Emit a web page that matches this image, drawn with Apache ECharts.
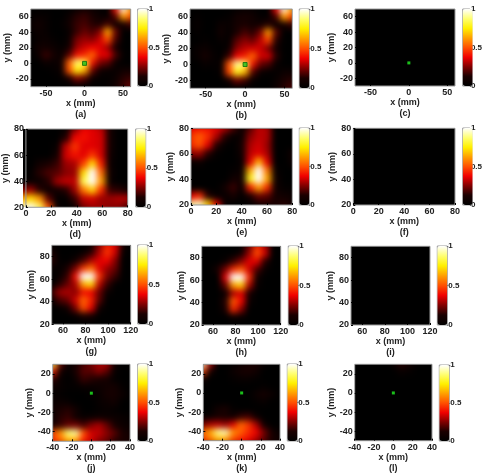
<!DOCTYPE html>
<html>
<head>
<meta charset="utf-8">
<style>
  html, body { margin: 0; background: #fff; }
  #main { position: absolute; left: 0; top: 0; width: 485px; height: 473px; }
  .clip { position: absolute; overflow: hidden; background: #000; }
  .heat { position: absolute; filter: blur(3px); }
</style>
<script src="https://cdn.jsdelivr.net/npm/echarts@6/dist/echarts.min.js"></script>
</head>
<body>
<script>
// panel letters
const letters = ['a', 'b', 'c', 'd', 'e', 'f', 'g', 'h', 'i', 'j', 'k', 'l']

// axis ranges [xmin, xmax, ymin, ymax]
const rangeA = [-70, 60, -30, 70]
const rangeD = [0, 80, 20, 80]
const rangeG = [50, 120, 20, 90]
const rangeJ = [-40, 40, -50, 30]

// tick labels per row of panels
const xTicksA = [-50, 0, 50]
const yTicksA = [-20, 0, 20, 40, 60]
const xTicksD = [0, 20, 40, 60, 80]
const yTicksD = [20, 40, 60, 80]
const xTicksG = [60, 80, 100, 120]
const yTicksG = [20, 40, 60, 80]
const xTicksJ = [-40, -20, 0, 20, 40]
const yTicksJ = [-40, -20, 0, 20]
const barTicks = [0, 0.5, 1]

// normalised image values in percent, first row is the top of the plot
const imgA = [
  [0,0,0,0,0,0,4,8,6,2,0,40,100,62],
  [2,4,3,0,0,6,14,16,12,6,4,20,62,50],
  [4,8,4,0,2,8,16,18,14,12,18,6,12,18],
  [2,6,4,0,0,4,16,22,18,26,64,22,0,0],
  [0,4,6,2,0,6,24,28,26,34,50,18,0,0],
  [0,8,8,6,2,10,28,34,38,36,28,10,0,0],
  [0,6,16,10,4,20,40,44,54,36,36,18,2,0],
  [0,0,6,4,8,52,88,82,40,24,20,6,0,0],
  [0,0,0,2,6,50,76,64,22,8,4,4,8,8],
  [0,0,0,0,2,12,26,20,6,2,2,6,14,16],
  [0,0,0,0,0,0,2,2,0,0,2,8,16,22]
]
const imgB = [
  [0,0,0,0,0,0,2,4,3,0,0,38,100,64],
  [0,2,0,0,0,2,8,10,8,2,2,18,62,48],
  [0,4,0,0,6,4,10,12,8,8,14,4,10,16],
  [0,2,0,0,8,2,12,18,14,24,62,20,0,0],
  [0,0,2,0,4,2,20,26,22,32,48,14,0,0],
  [0,4,6,2,0,6,26,32,34,34,24,8,0,0],
  [0,4,10,4,0,16,38,42,54,34,34,14,0,0],
  [0,0,4,2,4,50,92,86,40,22,18,4,0,0],
  [0,0,0,0,4,48,78,66,20,6,2,2,6,6],
  [0,0,0,0,0,10,24,18,4,0,0,4,12,14],
  [0,0,0,0,0,0,0,0,0,0,0,6,14,18]
]
const imgC = [[0,0],[0,0]]
const imgD = [
  [0,0,0,0,0,4,26,38,36,32,10,0,0],
  [0,0,0,0,0,14,38,40,36,34,10,0,0],
  [0,0,0,0,4,32,46,36,36,34,10,0,0],
  [0,0,0,0,10,34,40,36,46,34,8,0,0],
  [0,0,8,12,16,28,30,48,72,42,6,0,0],
  [0,2,14,18,20,26,28,72,100,54,8,0,0],
  [2,4,6,14,28,32,32,84,100,62,6,0,0],
  [26,28,14,6,8,14,28,56,70,44,16,14,8],
  [64,72,60,20,2,2,16,32,34,28,28,30,30],
  [94,100,86,50,6,0,6,24,28,28,26,26,18]
]
const imgE = [
  [38,40,40,36,30,18,4,20,32,30,0,0,0],
  [46,52,44,30,14,2,6,26,32,30,0,0,0],
  [44,50,36,14,2,0,10,30,34,28,0,0,0],
  [26,28,14,2,0,0,8,32,36,30,0,0,8],
  [4,6,0,0,0,0,4,36,66,36,0,0,6],
  [0,0,0,0,0,2,6,64,100,56,4,0,0],
  [0,0,0,0,0,8,10,78,100,64,8,0,0],
  [0,0,0,0,8,16,4,42,62,44,8,2,2],
  [36,44,14,4,4,10,2,12,22,20,10,8,6],
  [92,96,70,38,4,0,0,2,10,12,12,14,8]
]
const imgF = [[0,0],[0,0]]
const imgG = [
  [0,0,0,0,0,4,26,42,36,10,0],
  [12,0,0,0,4,14,30,46,34,4,0],
  [14,2,0,8,18,30,36,38,26,0,0],
  [4,2,12,24,46,56,36,28,22,0,0],
  [0,4,16,40,100,100,46,24,16,0,0],
  [0,14,22,30,64,72,32,16,2,0,0],
  [16,28,30,26,40,38,22,6,0,0,0],
  [6,18,22,34,54,42,20,0,0,0,0],
  [0,2,8,24,50,36,8,0,0,0,0],
  [0,0,0,2,12,10,0,0,0,0,0],
  [0,0,0,0,0,0,0,0,0,0,0]
]
const imgH = [
  [0,0,0,0,0,0,22,44,30,0,0],
  [0,0,0,0,0,8,28,50,34,0,0],
  [0,0,0,4,16,26,36,36,14,0,0],
  [0,0,10,24,44,52,34,18,4,0,0],
  [0,0,0,36,100,100,44,8,0,0,0],
  [0,0,0,22,62,70,30,4,0,0,0],
  [0,0,0,6,30,36,12,0,0,0,0],
  [0,0,0,14,52,38,6,0,0,0,0],
  [0,0,0,12,44,26,0,0,0,0,0],
  [0,0,0,0,6,4,0,0,0,0,0],
  [0,0,0,0,0,0,0,0,0,0,0]
]
const imgI = [[0,0],[0,0]]
const imgJ = [
  [84,22,4,10,18,24,30,30,8,0,4],
  [42,10,2,12,20,20,26,20,4,0,0],
  [16,4,0,6,16,14,12,10,2,0,0],
  [6,4,2,2,4,4,6,8,10,2,0],
  [4,2,0,0,0,2,4,10,10,6,0],
  [6,6,4,0,0,0,4,6,8,0,0],
  [8,12,14,8,0,0,2,4,2,0,0],
  [6,14,16,8,4,6,8,6,6,4,2],
  [12,16,22,24,18,26,30,22,12,6,4],
  [48,60,88,92,50,34,32,26,20,12,8],
  [44,52,64,62,42,34,26,22,14,12,10]
]
const imgK = [
  [96,30,0,0,2,6,10,12,4,0,0],
  [48,12,0,0,6,10,12,8,0,0,0],
  [10,0,0,0,2,4,4,2,0,0,0],
  [0,0,0,0,0,0,0,0,2,0,0],
  [0,0,0,0,0,0,0,6,10,6,0],
  [0,0,0,0,0,0,0,2,4,0,0],
  [0,0,8,12,2,0,0,0,0,0,0],
  [4,6,12,12,8,16,18,8,0,0,0],
  [24,30,32,28,36,54,46,30,8,0,0],
  [54,64,90,94,60,52,44,38,24,12,4],
  [46,54,64,62,48,42,38,30,20,12,8]
]
const imgL = [
  [0,0,0,0,0,4,14,10,2,0,0],
  [0,0,0,0,0,0,5,3,0,0,0],
  [0,0,0,0,0,0,0,0,0,0,0],
  [0,0,0,0,0,0,0,0,0,0,0],
  [0,0,0,0,0,0,0,0,0,0,0],
  [0,0,0,0,0,0,0,0,0,0,0],
  [0,0,0,0,0,0,0,0,0,0,0],
  [0,0,0,0,0,0,0,0,0,0,0],
  [0,0,0,0,0,0,0,0,0,0,0],
  [0,0,0,0,0,0,0,0,0,0,0],
  [0,0,0,0,0,0,0,0,0,0,0]
]
const images = [imgA, imgB, imgC, imgD, imgE, imgF, imgG, imgH, imgI, imgJ, imgK, imgL]

// source markers [x, y] per panel
const markerA = [[0, 0]]
const markerD = []
const markerG = []
const markerJ = [[0, 0]]

const hot = ['#000000', '#1a0000', '#800000', '#f00000', '#ff5000', '#ffa000', '#fff000', '#ffff70', '#ffffff']

// pixel layout: plot left, top, right, bottom, colorbar left, top, bottom
const layout = [
  [30.7, 9, 130.7, 86.7, 137.7, 9, 86],
  [190, 9, 292.3, 88.3, 299.3, 9, 88],
  [355, 9, 455, 86, 462.7, 9, 86],
  [22.7, 129, 127.7, 207.3, 135.7, 129, 207],
  [191, 128.3, 292.3, 205, 299.3, 128, 205],
  [353.3, 128.3, 455, 205, 462.7, 128, 205],
  [51.7, 245.3, 130.7, 324.3, 137.7, 245, 324],
  [201.7, 246.3, 280.7, 325, 288.3, 246, 325],
  [351, 246.3, 430, 325, 437.3, 246, 325],
  [52.7, 364.3, 130, 441.3, 137.7, 364, 441],
  [203.3, 364.3, 280, 440.7, 287.3, 364, 441],
  [354.7, 364.3, 432, 440.7, 439.3, 365, 441]
]

const font = { fontFamily: 'Liberation Sans', fontWeight: 'bold', fontSize: 9, color: '#222' }
const barFont = { ...font, fontSize: 8 }
const frame = '#9a9a9a'

// the blurred image sits under the axes, one small chart per panel
function drawImage(rows, box) {
  const w = box[2] - box[0]
  const h = box[3] - box[1]
  const cw = w / (rows[0].length - 1)
  const ch = h / (rows.length - 1)

  const clip = document.createElement('div')
  clip.className = 'clip'
  clip.style.cssText = `left:${box[0]}px;top:${box[1]}px;width:${w}px;height:${h}px`
  const heat = document.createElement('div')
  heat.className = 'heat'
  // samples lie on the plot edge so each cell reaches half a cell past it
  heat.style.cssText = `left:${-cw / 2}px;top:${-ch / 2}px;width:${w + cw}px;height:${h + ch}px`
  clip.appendChild(heat)
  document.body.appendChild(clip)

  const data = []
  rows.forEach((row, j) => row.forEach((v, i) => data.push([i, j, v])))
  echarts.init(heat).setOption({
    animation: false,
    grid: { left: 0, right: 0, top: 0, bottom: 0 },
    xAxis: { type: 'category', show: false, data: rows[0].map((v, i) => i) },
    yAxis: { type: 'category', show: false, inverse: true, data: rows.map((v, j) => j) },
    visualMap: { show: false, min: 0, max: 100, inRange: { color: hot } },
    series: [{ type: 'heatmap', data: data, progressive: 0 }]
  })
}

images.forEach((rows, n) => drawImage(rows, layout[n]))

const main = document.createElement('div')
main.id = 'main'
document.body.appendChild(main)

const grid = [], xAxis = [], yAxis = [], series = [], visualMap = [], title = []
const rowRange = [rangeA, rangeD, rangeG, rangeJ]
const rowX = [xTicksA, xTicksD, xTicksG, xTicksJ]
const rowY = [yTicksA, yTicksD, yTicksG, yTicksJ]
const rowMarker = [markerA, markerD, markerG, markerJ]

letters.forEach((letter, n) => {
  const box = layout[n]
  const row = Math.floor(n / 3)
  const r = rowRange[row]
  const g = grid.length
  const bigMark = n < 2

  grid.push({
    left: box[0], top: box[1], width: box[2] - box[0], height: box[3] - box[1],
    show: true, borderColor: frame, borderWidth: 1, backgroundColor: 'transparent'
  })
  xAxis.push({
    type: 'value', gridIndex: g, min: r[0], max: r[1],
    name: 'x (mm)', nameLocation: 'middle', nameGap: 10.5, nameTextStyle: font,
    axisLine: { show: false, onZero: false }, splitLine: { show: false },
    axisTick: { inside: true, length: 2, lineStyle: { color: '#000' }, customValues: rowX[row] },
    axisLabel: { ...font, margin: 2, customValues: rowX[row] }
  })
  yAxis.push({
    type: 'value', gridIndex: g, min: r[2], max: r[3],
    name: 'y (mm)', nameLocation: 'middle', nameGap: 13, nameTextStyle: font,
    axisLine: { show: false, onZero: false }, splitLine: { show: false },
    axisTick: { inside: true, length: 2, lineStyle: { color: '#000' }, customValues: rowY[row] },
    axisLabel: { ...font, margin: 2, customValues: rowY[row] }
  })
  series.push({
    type: 'scatter', xAxisIndex: g, yAxisIndex: g, symbol: 'rect',
    symbolSize: bigMark ? 4 : 3, z: 5, data: rowMarker[row],
    itemStyle: bigMark
      ? { color: '#19c219', borderColor: '#0a6a0a', borderWidth: 1 }
      : { color: '#22ee22', borderWidth: 0 }
  })

  // colorbar: axis from a narrow grid, gradient from the visualMap
  const b = grid.length
  grid.push({
    left: box[4], top: box[5], width: 10, height: box[6] - box[5],
    show: true, borderColor: frame, borderWidth: 1, backgroundColor: 'transparent'
  })
  xAxis.push({ type: 'value', gridIndex: b, min: 0, max: 1, show: false })
  yAxis.push({
    type: 'value', gridIndex: b, min: 0, max: 1, position: 'right',
    axisLine: { show: false, onZero: false }, splitLine: { show: false },
    axisTick: { length: 1, lineStyle: { color: '#555' }, customValues: barTicks },
    axisLabel: { ...barFont, margin: 1, customValues: barTicks }
  })
  visualMap.push({
    type: 'continuous', min: 0, max: 1, seriesIndex: [], calculable: false,
    left: box[4], top: box[5], itemWidth: 10, itemHeight: box[6] - box[5],
    padding: 0, text: null, showLabel: false, inRange: { color: hot }
  })

  title.push({
    text: '(' + letter + ')', left: (box[0] + box[2]) / 2, top: box[3] + 23,
    textAlign: 'center', padding: 0,
    textStyle: font
  })
})

echarts.init(main).setOption({
  animation: false,
  backgroundColor: 'transparent',
  title, grid, xAxis, yAxis, series, visualMap
})
</script>
</body>
</html>
